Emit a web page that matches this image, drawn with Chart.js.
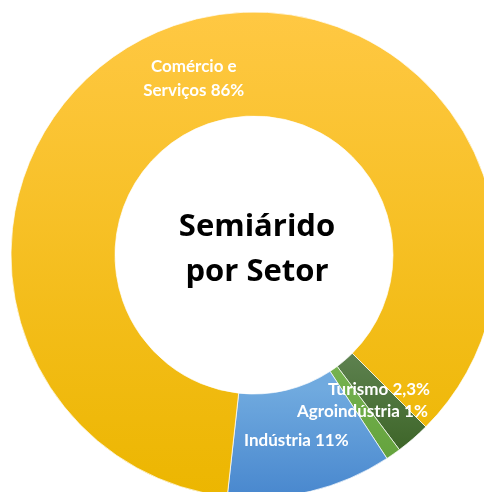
<!DOCTYPE html>
<html>
<head>
<meta charset="utf-8">
<script src="https://cdn.jsdelivr.net/npm/chart.js@4.4.1/dist/chart.umd.min.js"></script>
<style>
  html, body { margin: 0; padding: 0; background: #ffffff; overflow: hidden; width: 484px; height: 492px; }
  #wrap { position: absolute; left: 0; top: 0; width: 508px; height: 510px; }
</style>
</head>
<body>
<div id="wrap"><canvas id="c" width="508" height="510"></canvas></div>
<script>
// ---- data ----
const categories = ['Turismo', 'Agroindústria', 'Indústria', 'Comércio e Serviços'];
const shares = [2.3, 1, 11, 86];
const sliceLabels = [['Turismo 2,3%'], ['Agroindústria 1%'], ['Indústria 11%'], ['Comércio e', 'Serviços 86%']];
const centerTitle = ['Semiárido', 'por Setor'];

// ---- styles ----
const OUTER = 243, INNER = 145;
const gradientStops = [
  ['#5E8250', '#3A6224'],   // Turismo
  ['#78B553', '#64A23C'],   // Agroindústria
  ['#70AADF', '#4887CE'],   // Indústria
  ['#FFC843', '#ECB600']    // Comércio e Serviços
];
const gradientSpan = [[0.40, 0.85], [0.40, 0.85], [0.55, 1.0], [-1.0, 1.0]];
const labelNudge = [[0, -10], [-1, 0], [-2, 0], [3, 4]];

function sliceFill(ctx) {
  const chart = ctx.chart;
  const area = chart.chartArea;
  if (!area) return gradientStops[ctx.dataIndex][0];
  const cy = (area.top + area.bottom) / 2;
  const span = gradientSpan[ctx.dataIndex];
  const g = chart.ctx.createLinearGradient(0, cy + span[0] * OUTER, 0, cy + span[1] * OUTER);
  g.addColorStop(0, gradientStops[ctx.dataIndex][0]);
  g.addColorStop(1, gradientStops[ctx.dataIndex][1]);
  return g;
}

const labelPlugin = {
  id: 'sliceLabels',
  afterDatasetsDraw(chart) {
    const ctx = chart.ctx;
    const meta = chart.getDatasetMeta(0);
    ctx.save();
    ctx.fillStyle = '#ffffff';
    ctx.textAlign = 'center';
    ctx.textBaseline = 'middle';
    ctx.font = 'bold 17px Lato';
    meta.data.forEach((arc, i) => {
      const p = arc.tooltipPosition();
      const lines = sliceLabels[i];
      const lh = 24;
      lines.forEach((t, k) => {
        const y = p.y + labelNudge[i][1] + (k - (lines.length - 1) / 2) * lh;
        ctx.fillText(t, p.x + labelNudge[i][0], y);
      });
    });
    // centre title
    const c = meta.data[0];
    ctx.fillStyle = '#000000';
    ctx.font = 'bold 31px "Open Sans"';
    ctx.fillText(centerTitle[0], c.x + 3, c.y - 28);
    ctx.fillText(centerTitle[1], c.x + 3, c.y + 17);
    ctx.restore();
  }
};

new Chart(document.getElementById('c'), {
  type: 'doughnut',
  data: {
    labels: categories,
    datasets: [{
      data: shares,
      backgroundColor: sliceFill,
      borderColor: 'rgba(255,255,255,0.7)',
      borderWidth: 1,
      hoverOffset: 0
    }]
  },
  options: {
    responsive: false,
    animation: false,
    rotation: 135,
    radius: OUTER,
    cutout: INNER,
    layout: { padding: 0 },
    plugins: { legend: { display: false }, tooltip: { enabled: false }, title: { display: false } },
    events: []
  },
  plugins: [labelPlugin]
});
</script>
</body>
</html>
